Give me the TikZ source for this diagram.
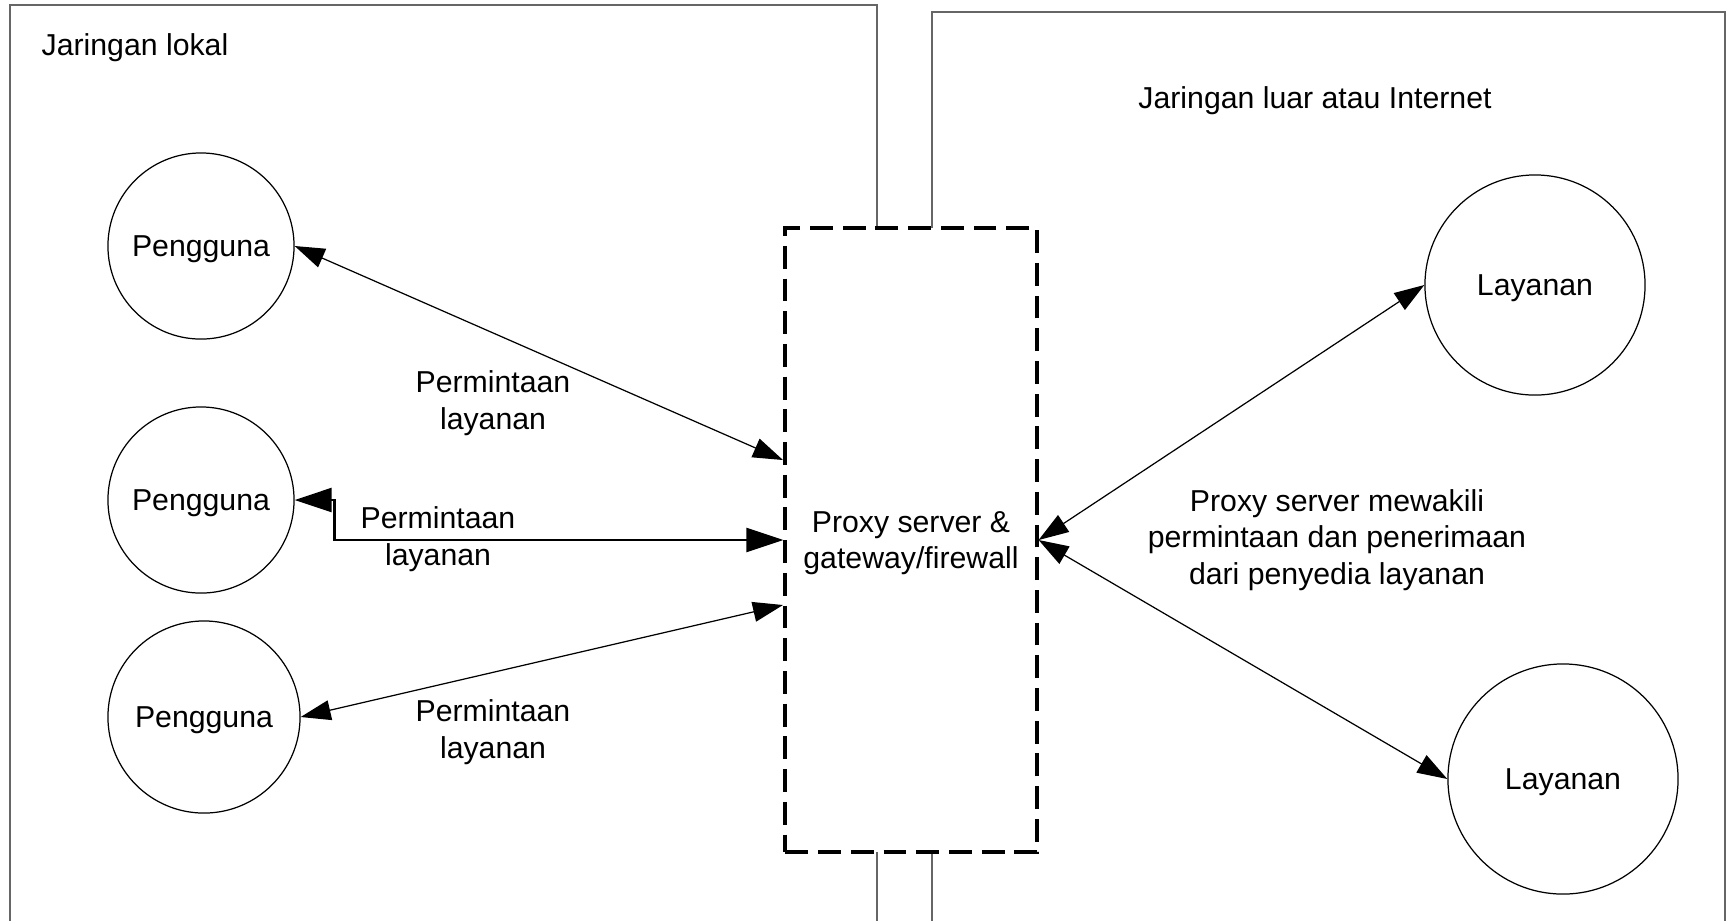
\documentclass[tikz,border=0pt]{standalone}
\usepackage{fontspec}
\setmainfont{Liberation Sans}
\usetikzlibrary{arrows.meta}

\begin{document}
\begin{tikzpicture}[x=0.01cm,y=-0.01cm,
  every node/.style={font=\fontsize{8.6}{10.4}\selectfont,text depth=0pt},
  simpul/.style={circle,draw,line width=0.35pt,inner sep=0pt},
  wilayah/.style={draw=black!60,line width=0.4pt},
  panah/.style={<->,line width=0.35pt,>={Triangle[length=3mm,width=2mm]}},
  panahtebal/.style={<->,line width=0.7pt,>={Triangle[length=3.7mm,width=2.4mm]}}]

\useasboundingbox (0,0) rectangle (1733,920);

% wilayah jaringan
\draw[wilayah] (10,930) -- (10,5) -- (877,5) -- (877,930);
\draw[wilayah] (932,930) -- (932,12) -- (1725,12) -- (1725,930);
\node (lokal) at (135,45) {Jaringan lokal};
\node (luar) at (1315,98) {Jaringan luar atau Internet};

% proxy
\node[draw,fill=white,dash pattern=on 6.5pt off 2.8pt,line width=1.15pt,
  minimum width=2.51cm,minimum height=6.24cm,align=center] (proxy) at (911,540)
  {Proxy server \&\\gateway/firewall};

% pengguna
\node[simpul,minimum size=1.86cm] (p1) at (201,246) {Pengguna};
\node[simpul,minimum size=1.86cm] (p2) at (201,500) {Pengguna};
\node[simpul,minimum size=1.92cm] (p3) at (204,717) {Pengguna};

% layanan
\node[simpul,minimum size=2.2cm] (l1) at (1535,285) {Layanan};
\node[simpul,minimum size=2.3cm] (l2) at (1563,779) {Layanan};

% titik pada proxy
\coordinate (masuk1) at (783,460);
\coordinate (masuk3) at (783,605);

% panah
\draw[panah] (p1.east) -- (masuk1);
\draw[panahtebal] (p2.east) -- ++(40,0) |- (proxy.west);
\draw[panah] (p3.east) -- (masuk3);
\draw[panah] (proxy.east) -- (l1.west);
\draw[panah] (proxy.east) -- (l2.west);

% keterangan
\node[align=center] (minta1) at (493,400) {Permintaan\\layanan};
\node[align=center] (minta2) at (438,536) {Permintaan\\layanan};
\node[align=center] (minta3) at (493,729) {Permintaan\\layanan};
\node[align=center] (wakil) at (1337,537) {Proxy server mewakili\\permintaan dan penerimaan\\dari penyedia layanan};
\end{tikzpicture}
\end{document}
